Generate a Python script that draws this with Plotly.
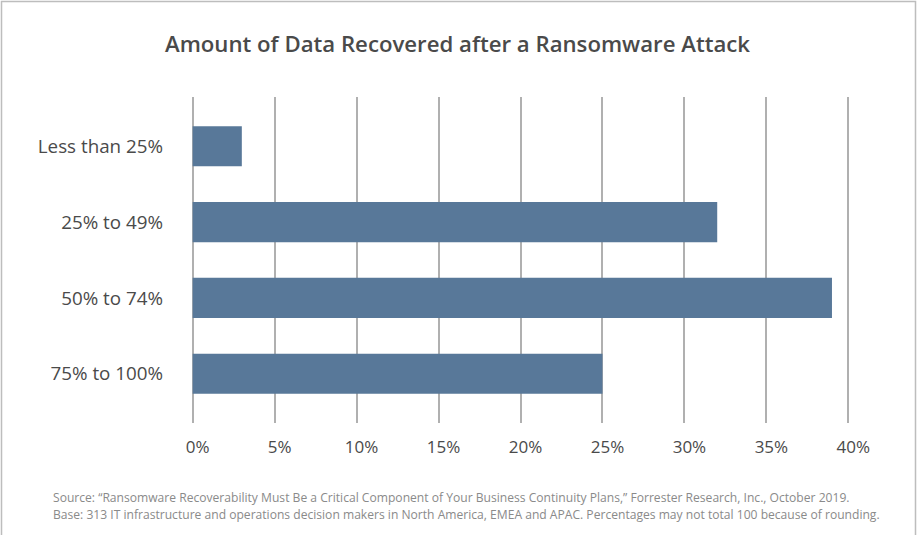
import plotly.graph_objects as go

categories = ["Less than 25%", "25% to 49%", "50% to 74%", "75% to 100%"]
values = [3, 32, 39, 25]
tick_vals = [0, 5, 10, 15, 20, 25, 30, 35, 40]
tick_text = ["0%", "5%", "10%", "15%", "20%", "25%", "30%", "35%", "40%"]
title_text = "Amount of Data Recovered after a Ransomware Attack"
foot_lines = [
    "Source: \u201cRansomware Recoverability Must Be a Critical Component of Your Business Continuity Plans,\u201d "
    "Forrester Research, Inc., October 2019.",
    "Base: 313 IT infrastructure and operations decision makers in North America, EMEA and APAC. "
    "Percentages may not total 100 because of rounding.",
]

W, H = 917, 535
ml, mr, mt, mb = 191, 67, 97, 112
pw, ph = W - ml - mr, H - mt - mb
FONT = "Open Sans, sans-serif"
TXT = "#4a4a4a"

fig = go.Figure(go.Bar(
    y=categories, x=values, orientation="h",
    marker=dict(color="#587899", line=dict(width=0)),
    hoverinfo="x+y",
))

fig.update_layout(
    width=W, height=H,
    margin=dict(l=ml, r=mr, t=mt, b=mb),
    paper_bgcolor="white", plot_bgcolor="white",
    font=dict(family=FONT, color=TXT),
    bargap=0.47,
    showlegend=False,
    title=dict(text=title_text,
               x=(457.5 - ml) / pw, xanchor="center", xref="paper", y=1 - 44 / H, yanchor="middle",
               font=dict(size=22.2, color=TXT, family=FONT, weight=600)),
)
fig.update_xaxes(
    range=[-0.1, 40.1], tickvals=tick_vals, ticktext=tick_text,
    showgrid=True, gridcolor="#b0b0b0", gridwidth=1.5,
    zeroline=False, showline=False, ticks="",
    tickfont=dict(size=17, color=TXT, family=FONT), ticklabelstandoff=12,
    ticklabelshift=5,
    fixedrange=True,
)
fig.update_yaxes(
    categoryorder="array", categoryarray=categories,
    range=[3.65, -0.65], showgrid=False, zeroline=False, showline=False,
    ticks="", tickfont=dict(size=18.8, color=TXT, family=FONT), ticklabelstandoff=27,
    fixedrange=True,
)

def px_x(p):
    return (p - ml) / pw

def px_y(p):
    return 1 - (p - mt) / ph

fig.add_shape(type="rect", xref="paper", yref="paper",
              x0=px_x(1.5), x1=px_x(915.5), y0=px_y(545), y1=px_y(1.5),
              line=dict(color="#bdbdbd", width=1.5), fillcolor="rgba(0,0,0,0)", layer="below")

for line, yp in zip(foot_lines, [497, 514]):
    fig.add_annotation(text=line, xref="paper", yref="paper", x=px_x(51), y=px_y(yp),
                       xanchor="left", yanchor="middle", align="left", showarrow=False,
                       font=dict(size=12.1, color="#8a8a8a", family=FONT))

fig.write_html("out.html", config={"displayModeBar": False},
               post_script="document.body.style.margin='0';")
